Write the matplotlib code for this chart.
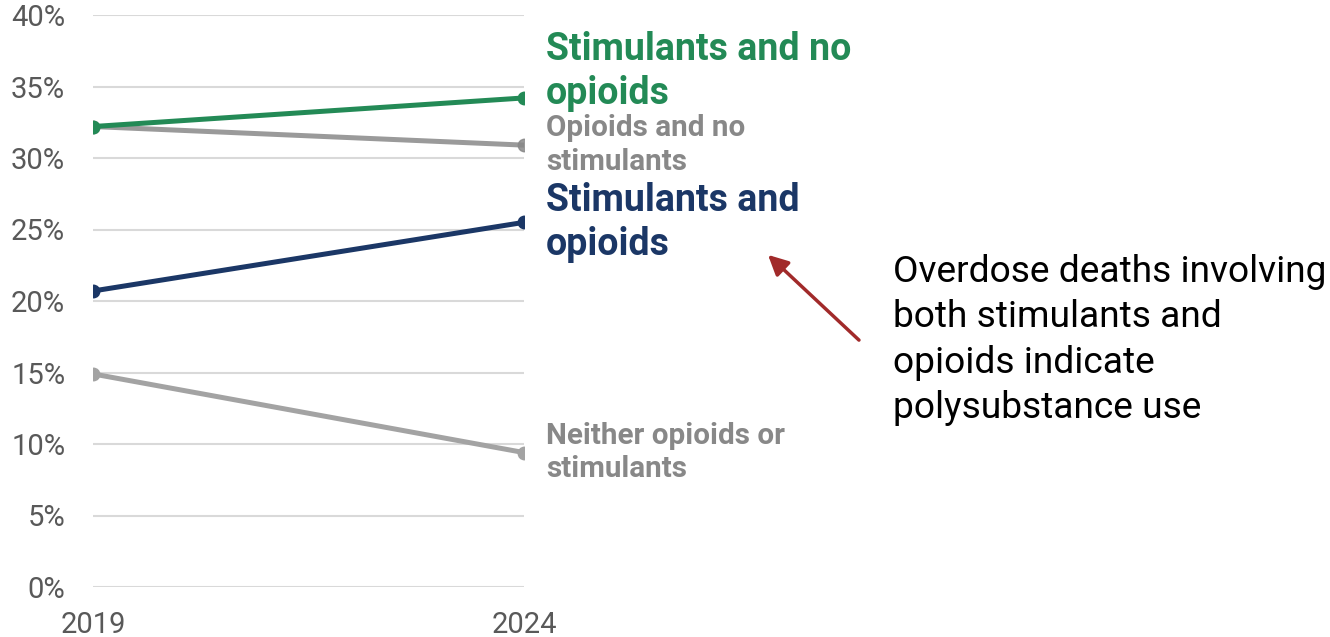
import matplotlib.pyplot as plt
import numpy as np

# share of overdose deaths by substance group
years = [2019, 2024]
stim_no_opioids = [32.2, 34.2]
opioids_no_stim = [32.2, 30.9]
stim_and_opioids = [20.7, 25.5]
neither = [14.9, 9.4]
yticks = np.arange(0, 45, 5)

plt.rcParams['font.family'] = ['Roboto', 'DejaVu Sans']

green = '#238a56'
navy = '#1b3766'
gray = '#888888'
lightgray = '#a3a3a3'

W, H = 1330, 637
fig = plt.figure(figsize=(W / 100, H / 100), dpi=100)
ax = fig.add_axes([93 / W, 1 - 587 / H, 431 / W, 572 / H])

for y in yticks:
    ax.axhline(y, color='#d9d9d9', lw=1.5, zorder=0)

ax.plot(years, neither, color=lightgray, lw=3.6, marker='o', ms=9, zorder=2)
ax.plot(years, opioids_no_stim, color=gray, lw=3.6, marker='o', ms=9, zorder=2, alpha=0.85)
ax.plot(years, stim_and_opioids, color=navy, lw=3.6, marker='o', ms=9, zorder=3)
ax.plot(years, stim_no_opioids, color=green, lw=3.6, marker='o', ms=9, zorder=4)

ax.set_xlim(2019, 2024)
ax.set_ylim(0, 40)
ax.set_xticks(years)
ax.set_yticks(yticks)
ax.set_yticklabels([f'{v}%' for v in yticks])
ax.tick_params(axis='both', length=0, labelsize=21, labelcolor='#595959')
ax.tick_params(axis='y', pad=20)
ax.tick_params(axis='x', pad=17)
for s in ax.spines.values():
    s.set_visible(False)

# end-of-line labels
labels = [
    ('Stimulants and no\nopioids', stim_no_opioids[-1], 19, green, 27),
    ('Opioids and no\nstimulants', opioids_no_stim[-1], 0, gray, 21.3),
    ('Stimulants and\nopioids', stim_and_opioids[-1], 0, navy, 27),
    ('Neither opioids or\nstimulants', neither[-1], 0, gray, 21.3),
]
for text, val, dy, col, size in labels:
    ax.annotate(text, xy=(2024, val), xytext=(16, dy), textcoords='offset points',
                va='center', ha='left', fontsize=size, fontweight='bold',
                color=col, linespacing=1.25, annotation_clip=False)

# callout
fig.text(893 / W, 1 - 340 / H,
         'Overdose deaths involving\nboth stimulants and\nopioids indicate\npolysubstance use',
         va='center', ha='left', fontsize=26.7, color='black', linespacing=1.33)
ax.annotate('', xy=(766, H - 253), xycoords='figure pixels',
            xytext=(861, H - 342), textcoords='figure pixels',
            arrowprops=dict(arrowstyle='-|>,head_length=1.2,head_width=0.6',
                            color='#a12a2a', lw=2.5))

fig.savefig('out.png', dpi=100)
